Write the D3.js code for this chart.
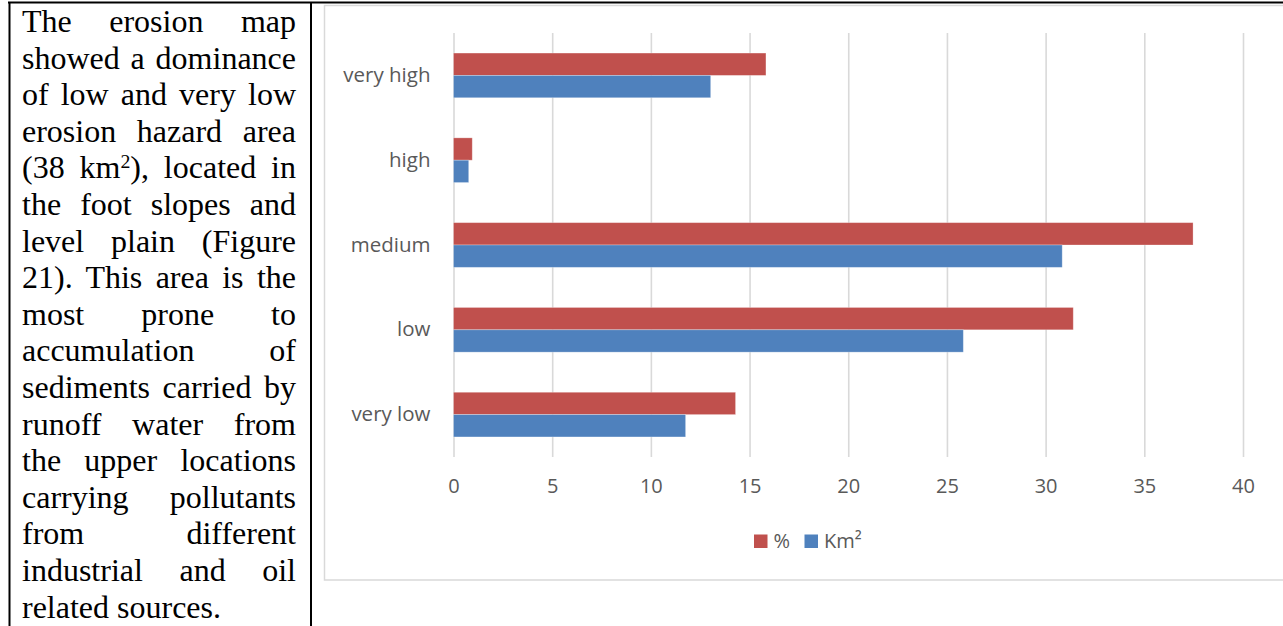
<!DOCTYPE html>
<html>
<head>
<meta charset="utf-8">
<script src="https://cdn.jsdelivr.net/npm/d3@7"></script>
<style>
  html, body { margin: 0; padding: 0; background: #fff; }
  #page { position: relative; width: 1283px; height: 626px; overflow: hidden; }
  svg { position: absolute; left: 0; top: 0; }
  #para { position: absolute; left: 22px; top: 3px; width: 274px;
          font-family: "Liberation Serif", "Times New Roman", serif; font-size: 32px;
          line-height: 36.6px; color: #000; }
  #para div { text-align: justify; text-align-last: justify; height: 36.6px; white-space: nowrap; }
  #para div.last { text-align-last: left; }
  #para .sup { font-size: 0.62em; position: relative; top: -0.5em; }
</style>
</head>
<body>
<div id="page"></div>
<script>
// Erosion hazard classes, drawn bottom to top
const categories = ["very low", "low", "medium", "high", "very high"];
const percentValues = [14.29, 31.40, 37.47, 0.95, 15.83];
const areaValues = [11.76, 25.83, 30.84, 0.77, 13.03];
const seriesNames = ["%", "Km²"];
const seriesColors = ["#C0504D", "#4F81BD"];
const xTicks = [0, 5, 10, 15, 20, 25, 30, 35, 40];

// Paragraph in the left table cell, one entry per typeset line
const paragraphLines = [
  "The erosion map",
  "showed a dominance",
  "of low and very low",
  "erosion hazard area",
  "(38 km|2|), located in",
  "the foot slopes and",
  "level plain (Figure",
  "21). This area is the",
  "most prone to",
  "accumulation of",
  "sediments carried by",
  "runoff water from",
  "the upper locations",
  "carrying pollutants",
  "from different",
  "industrial and oil",
  "related sources."
];

const W = 1283, H = 626;
const page = d3.select("#page");
const svg = page.append("svg").attr("width", W).attr("height", H);

// Chart frame
svg.append("rect")
  .attr("x", 324.5).attr("y", 5.5)
  .attr("width", 1000).attr("height", 574.5)
  .attr("fill", "#fff").attr("stroke", "#d9d9d9").attr("stroke-width", 1.5);

// Table rules
svg.append("line").attr("x1", 8).attr("x2", W).attr("y1", 2.5).attr("y2", 2.5)
  .attr("stroke", "#000").attr("stroke-width", 2.2);
svg.append("line").attr("x1", 9.5).attr("x2", 9.5).attr("y1", 2).attr("y2", H)
  .attr("stroke", "#000").attr("stroke-width", 2);
svg.append("line").attr("x1", 311).attr("x2", 311).attr("y1", 2).attr("y2", H)
  .attr("stroke", "#000").attr("stroke-width", 2);

// Scales
const x = d3.scaleLinear().domain([0, 40]).range([453.5, 1243]);
const y = d3.scaleBand()
  .domain(categories.slice().reverse())
  .range([33, 457])
  .paddingInner(0.473).paddingOuter(0.2365);
const ySub = d3.scaleBand().domain(seriesNames).range([0, y.bandwidth()]);

// Gridlines
const grid = svg.append("g")
  .attr("transform", `translate(0,${y.range()[1]})`)
  .call(d3.axisBottom(x).tickValues(xTicks).tickSize(-(y.range()[1] - y.range()[0])).tickFormat(""));
grid.select(".domain").remove();
grid.selectAll(".tick line").attr("stroke", "#d9d9d9").attr("stroke-width", 1.6);

// Bars
const rows = categories.map((c, i) => ({ cat: c, vals: [percentValues[i], areaValues[i]] }));
const groups = svg.append("g").selectAll("g").data(rows).join("g")
  .attr("transform", d => `translate(0,${y(d.cat)})`);
groups.selectAll("rect")
  .data(d => d.vals.map((v, j) => ({ v, s: seriesNames[j], c: seriesColors[j] })))
  .join("rect")
  .attr("x", x(0))
  .attr("y", d => ySub(d.s))
  .attr("width", d => x(d.v) - x(0))
  .attr("height", ySub.bandwidth())
  .attr("fill", d => d.c)
  .attr("stroke", "rgba(255,255,255,0.35)")
  .attr("stroke-width", 0.8);

// Value axis labels
const xAxis = svg.append("g")
  .attr("transform", `translate(0,${y.range()[1]})`)
  .call(d3.axisBottom(x).tickValues(xTicks).tickSize(0).tickPadding(22));
xAxis.select(".domain").remove();
xAxis.selectAll("text")
  .attr("font-family", "'Open Sans', sans-serif").attr("font-size", 20)
  .attr("fill", "#595959");

// Category axis labels
const yAxis = svg.append("g")
  .attr("transform", `translate(${x(0)},0)`)
  .call(d3.axisLeft(y).tickSize(0).tickPadding(23));
yAxis.select(".domain").remove();
yAxis.selectAll("text")
  .attr("font-family", "'Open Sans', sans-serif").attr("font-size", 20.5)
  .attr("fill", "#595959");

// Legend
const legend = svg.append("g").attr("transform", "translate(754,534.5)");
const legendX = [0, 50.5];
seriesNames.forEach((name, i) => {
  const g = legend.append("g").attr("transform", `translate(${legendX[i]},0)`);
  g.append("rect").attr("width", 13.5).attr("height", 13.5).attr("fill", seriesColors[i]);
  g.append("text").attr("x", 19.5).attr("y", 6.9).attr("dy", "0.35em")
    .attr("font-family", "'Open Sans', sans-serif").attr("font-size", 20)
    .attr("fill", "#595959").text(name);
});

// Paragraph text
const para = page.append("div").attr("id", "para");
paragraphLines.forEach((line, i) => {
  const div = para.append("div").classed("last", i === paragraphLines.length - 1);
  const parts = line.split("|");
  if (parts.length === 3) {
    div.append("span").text(parts[0]);
    div.append("span").attr("class", "sup").text(parts[1]);
    div.append("span").text(parts[2]);
  } else {
    div.text(line);
  }
});
</script>
</body>
</html>
